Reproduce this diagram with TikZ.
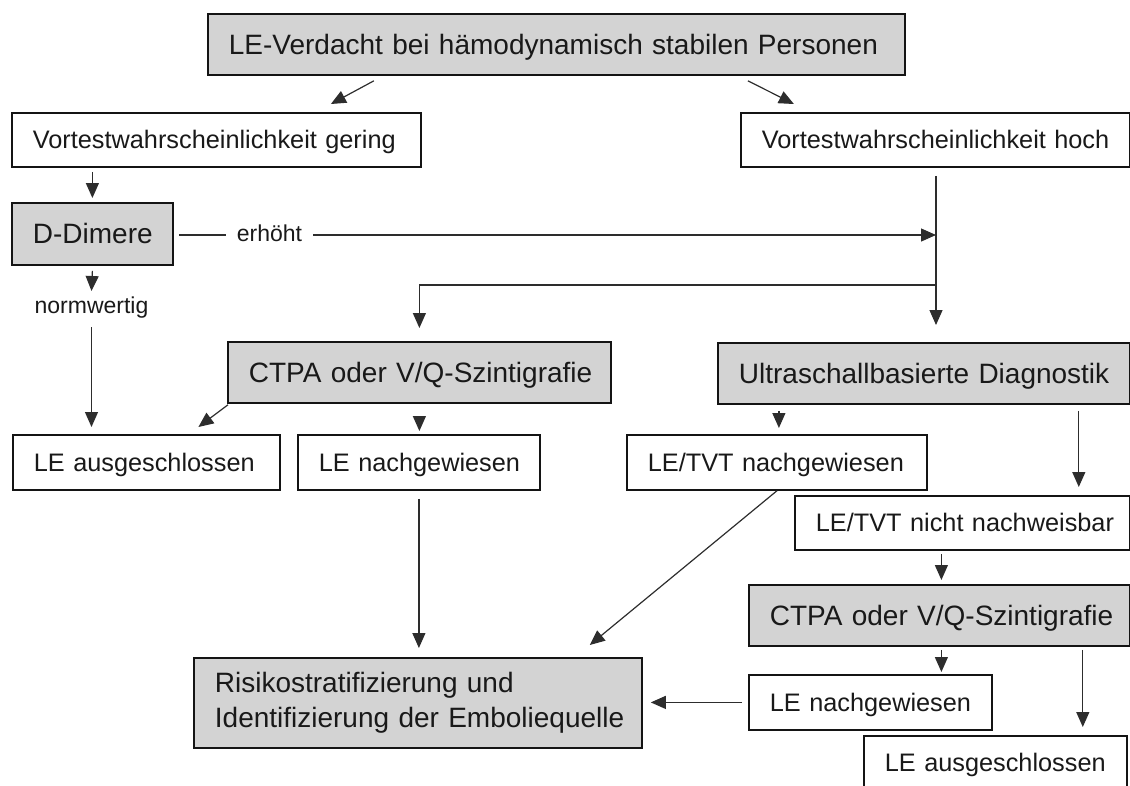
\documentclass[tikz,border=0pt]{standalone}
\usepackage{fontspec}
\setmainfont{Liberation Sans}
\usetikzlibrary{arrows.meta,calc}
\definecolor{boxgray}{RGB}{211,211,211}
\definecolor{edge}{RGB}{20,20,20}
\definecolor{wirecol}{RGB}{45,45,45}
\definecolor{ink}{RGB}{25,25,25}

\begin{document}
\begin{tikzpicture}[x=1pt,y=-1pt,
  boxbase/.style 2 args={draw=edge, line width=1.8pt, fill=white, text=ink,
    anchor=north west, inner xsep=21pt, inner ysep=0pt, text width=#1,
    minimum height=#2, align=left, font=\fontsize{25.3}{30}\selectfont},
  box/.style 2 args={boxbase={#1}{#2}, text height=22.9pt, text depth=5.4pt,
    execute at begin node=\hbox\bgroup, execute at end node=\egroup},
  grey/.style={fill=boxgray, font=\fontsize{28}{35}\selectfont,
    text height=25.3pt, text depth=5.9pt},
  lbl/.style={text=ink, inner sep=0pt, font=\fontsize{23}{28}\selectfont,
    text height=12pt, text depth=0pt},
  wire/.style={draw=wirecol, line width=1.2pt},
  arr/.style={wire, -{Triangle[length=15pt,width=13pt]}},
]
\useasboundingbox (0,0) rectangle (1130,785);

% boxes
\node[box={655}{61}, grey] (v)      at (207,13)  {LE-Verdacht bei hämodynamisch stabilen Personen};
\node[box={367}{54}]       (gering) at (11,112)  {Vortestwahrscheinlichkeit gering};
\node[box={347}{54}]       (hoch)   at (740,112) {Vortestwahrscheinlichkeit hoch};
\node[box={119}{62}, grey] (dd)     at (11,202)  {D-Dimere};
\node[box={341}{61}, grey] (ctpa1)  at (227,341) {CTPA oder V/Q-Szintigrafie};
\node[box={370}{61}, grey] (us)     at (717,342) {Ultraschallbasierte Diagnostik};
\node[box={225}{55}]       (aus1)   at (12,434)  {LE ausgeschlossen};
\node[box={200}{55}]       (nach1)  at (297,434) {LE nachgewiesen};
\node[box={258}{55}]       (tvtn)   at (626,434) {LE/TVT nachgewiesen};
\node[box={293}{54}]       (tvtk)   at (794,495) {LE/TVT nicht nachweisbar};
\node[box={339}{61}, grey] (ctpa2)  at (748,584) {CTPA oder V/Q-Szintigrafie};
\node[box={201}{55}]       (nach2)  at (748,674) {LE nachgewiesen};
\node[box={221}{54}]       (aus2)   at (863,735) {LE ausgeschlossen};
\node[boxbase={406}{90}, fill=boxgray, font=\fontsize{28}{35}\selectfont] (risk) at (193,657)
  {\mbox{Risikostratifizierung und}\\\mbox{Identifizierung der Emboliequelle}};

% branch labels
\node[lbl, inner xsep=11pt] (erh)  at (269.5,235) {erhöht};
\node[lbl]                  (norm) at (91.5,307)  {normwertig};
\coordinate (tr) at (936,285);

% connectors
\draw[arr] ($(v.south)+(-182.5,5)$) -- ($(gering.north)+(114.5,-8)$);
\draw[arr] ($(v.south)+(191.5,5)$) -- ($(hoch.north)+(-141.5,-8)$);
\draw[arr] ($(gering.south -| dd.north)+(0,4)$) -- ($(dd.north)+(0,-4)$);
\draw[wire] ($(dd.east |- erh)+(5,0)$) -- (erh.west);
\draw[arr] (erh.east) -- (erh.east -| tr);
\draw[arr] ($(hoch.south -| tr)+(0,8)$) -- ($(us.north -| tr)+(0,-17)$);
\draw[arr] (tr) -| ($(ctpa1.north)+(0,-13)$);
\draw[arr] ($(dd.south)+(0,5)$) -- ($(norm.center)+(0,-16)$);
\draw[arr] ($(norm.center)+(0,20)$) -- ($(aus1.north -| norm.center)+(0,-7)$);
\draw[arr] ($(ctpa1.south west)+(1,1)$) -- ($(aus1.north)+(52,-7)$);
\draw[arr] ($(ctpa1.south)+(0,15)$) -- ($(nach1.north -| ctpa1.south)+(0,-3)$);
\draw[arr] ($(nach1.south)+(0,8)$) -- ($(risk.north -| nach1.south)+(0,-9)$);
\draw[arr] ($(us.south -| tvtn.north)+(2,6)$) -- ($(tvtn.north)+(2,-6)$);
\draw[arr] ($(us.south east)+(-52,6)$) -- ($(tvtk.north east)+(-52,-8)$);
\draw[arr] (tvtn.south) -- ($(risk.north east)+(-53,-12)$);
\draw[arr] ($(tvtk.south -| ctpa2.north)+(2,3)$) -- ($(ctpa2.north)+(2,-4)$);
\draw[arr] ($(ctpa2.south)+(2,3)$) -- ($(nach2.north -| ctpa2.south)+(2,-2)$);
\draw[arr] ($(ctpa2.south east)+(-48,3)$) -- ($(aus2.north -| ctpa2.south east)+(-48,-8)$);
\draw[arr] ($(nach2.west)+(-6,0)$) -- ($(nach2.west -| risk.east)+(8,0)$);
\end{tikzpicture}
\end{document}
